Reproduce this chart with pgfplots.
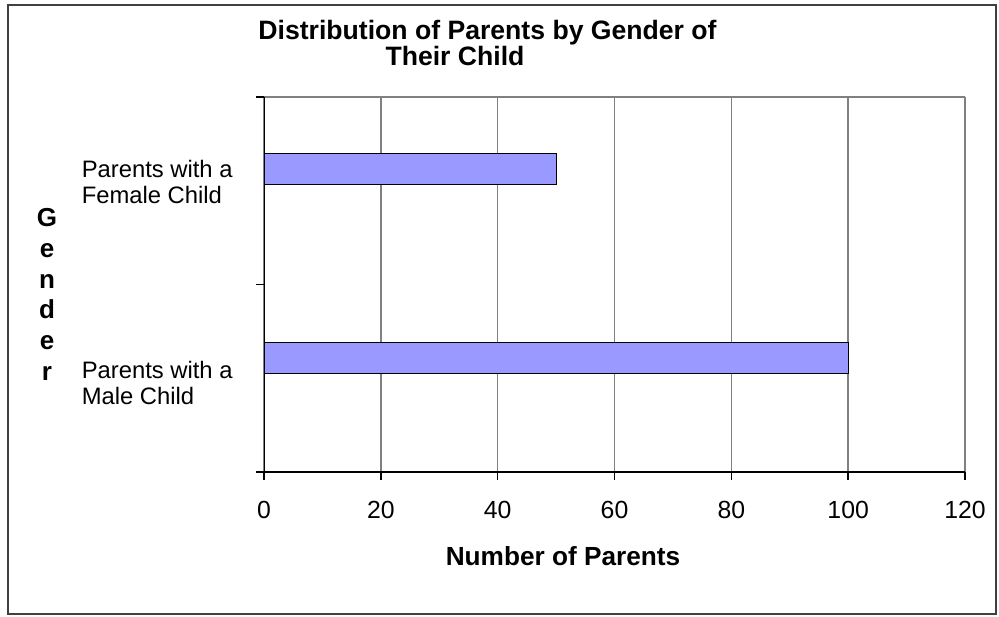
\documentclass[border=0pt]{standalone}
\usepackage{fontspec}
\setmainfont{Liberation Sans}
\usepackage{pgfplots}
\pgfplotsset{compat=1.18}
\definecolor{barfill}{RGB}{153,153,255}
\definecolor{gridgray}{RGB}{128,128,128}
\begin{document}
\begin{tikzpicture}
% page size and outer frame (1px = 0.5pt)
\path (0,0) rectangle (499.5pt,308pt);
\draw[line width=1pt, black!75] (4pt,1pt) rectangle (498pt,305.5pt);

\begin{axis}[
  at={(132pt,72pt)}, anchor=south west,
  scale only axis, width=350.5pt, height=187.5pt,
  xmin=0, xmax=120, ymin=0, ymax=2,
  xtick={0,20,...,120},
  ytick={0,1,2}, yticklabels={},
  extra y ticks={0.475,1.549},
  extra y tick labels={{Parents with a\\Male Child},{Parents with a\\Female Child}},
  extra y tick style={major tick length=0pt},
  xmajorgrids, grid style={gridgray, line width=0.75pt},
  axis line style={draw=none},
  tick align=outside, xtick pos=lower, ytick pos=left,
  major tick length=4pt,
  tick style={black, line width=0.75pt},
  /pgf/number format/assume math mode=true,
  xticklabel style={inner sep=0pt, anchor=north, font=\fontsize{12.4}{13}\selectfont},
  xticklabel shift=10.6pt,
  yticklabel style={inner sep=0pt, anchor=east, align=left,
    xshift=-15.5pt, font=\fontsize{11.9}{13}\selectfont},
]
\addplot[xbar, bar width=15.5pt, bar shift=0pt, fill=barfill, draw=black, line width=0.5pt]
  coordinates {(100,0.608) (50,1.616)};
\draw[gridgray, line width=0.75pt] (rel axis cs:0,1) -- (rel axis cs:1,1) -- (rel axis cs:1,0);
\draw[black, line width=0.75pt] (rel axis cs:0,1) -- (rel axis cs:0,0) -- (rel axis cs:1,0);
\end{axis}

% title and axis titles
\tikzset{bold13/.style={anchor=base, inner sep=0pt, font=\bfseries\fontsize{13.3}{15}\selectfont}}
\node[bold13] at (243.75pt,288pt) {Distribution of Parents by Gender of};
\node[bold13] at (227.5pt,275pt) {Their Child};
\node[bold13, font=\bfseries\fontsize{13.1}{15}\selectfont] at (281.5pt,25.5pt) {Number of Parents};
\foreach \l [count=\i from 0] in {G,e,n,d,e,r}
  \node[bold13, font=\bfseries\fontsize{13}{15}\selectfont] at (23.5pt,{194.5pt-15.3pt*\i}) {\l};
\end{tikzpicture}
\end{document}
